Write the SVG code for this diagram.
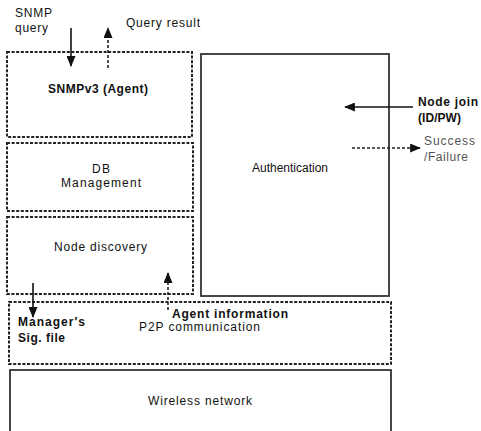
<svg xmlns="http://www.w3.org/2000/svg" width="481" height="431" viewBox="0 0 481 431">
<style>
text{font-family:"Liberation Sans",Arial,sans-serif;font-size:12px;fill:#111}
.b{font-weight:bold}
.g{fill:#555}
.dash{fill:none;stroke:#222;stroke-width:2;stroke-dasharray:3,1.6}
.solid{fill:none;stroke:#333;stroke-width:1.8}
.arr{stroke:#111;stroke-width:1.6;fill:none}
.arrd{stroke:#222;stroke-width:1.6;fill:none;stroke-dasharray:3,2}
</style>
<defs>
<marker id="ah" viewBox="0 0 12 10" refX="11" refY="5" markerWidth="12" markerHeight="9" markerUnits="userSpaceOnUse" orient="auto">
<path d="M0,0 L12,5 L0,10 z" fill="#111"/>
</marker>
</defs>
<g id="snmp">
<rect class="dash" x="7" y="52" width="185" height="85"/>
<text class="b" x="48" y="93" textLength="100" lengthAdjust="spacing">SNMPv3 (Agent)</text>
</g>
<g id="auth">
<rect class="solid" x="201" y="54" width="188" height="242"/>
<text x="252" y="172" textLength="76" lengthAdjust="spacing">Authentication</text>
</g>
<g id="db">
<rect class="dash" x="7" y="143" width="186" height="68"/>
<text x="92" y="173" textLength="18" lengthAdjust="spacing">DB</text>
<text x="61" y="187" textLength="80" lengthAdjust="spacing">Management</text>
</g>
<g id="discovery">
<rect class="dash" x="7" y="217" width="186" height="77"/>
<text x="54" y="251" textLength="93" lengthAdjust="spacing">Node discovery</text>
</g>
<g id="p2p">
<rect class="dash" x="9" y="302" width="382" height="62"/>
<text x="139" y="331" textLength="121" lengthAdjust="spacing">P2P communication</text>
</g>
<g id="wireless">
<rect class="solid" x="10" y="370" width="381" height="80"/>
<text x="148" y="405" textLength="104" lengthAdjust="spacing">Wireless network</text>
</g>
<g id="connectors">
<line class="arr" x1="71" y1="28" x2="71" y2="66" marker-end="url(#ah)"/>
<line class="arrd" x1="108" y1="68" x2="108" y2="28" marker-end="url(#ah)"/>
<line class="arr" x1="413" y1="107" x2="345" y2="107" marker-end="url(#ah)"/>
<line class="arrd" x1="352" y1="148" x2="420" y2="148" marker-end="url(#ah)"/>
<line class="arr" x1="33" y1="283" x2="33" y2="317" marker-end="url(#ah)"/>
<line class="arrd" x1="168" y1="310" x2="168" y2="273" marker-end="url(#ah)"/>
</g>
<g id="labels">
<text x="15" y="17" textLength="37" lengthAdjust="spacing">SNMP</text>
<text x="15" y="32" textLength="33" lengthAdjust="spacing">query</text>
<text x="126" y="27" textLength="74" lengthAdjust="spacing">Query result</text>
<text class="b" x="418" y="106" textLength="60" lengthAdjust="spacing">Node join</text>
<text class="b" x="418" y="122" textLength="43" lengthAdjust="spacing">(ID/PW)</text>
<text class="g" x="424" y="145" textLength="51" lengthAdjust="spacing">Success</text>
<text class="g" x="424" y="161" textLength="44" lengthAdjust="spacing">/Failure</text>
<text class="b" x="18" y="326" textLength="67" lengthAdjust="spacing">Manager′s</text>
<text class="b" x="18" y="342" textLength="47" lengthAdjust="spacing">Sig. file</text>
<text class="b" x="172" y="318" textLength="116" lengthAdjust="spacing">Agent information</text>
</g>
</svg>
